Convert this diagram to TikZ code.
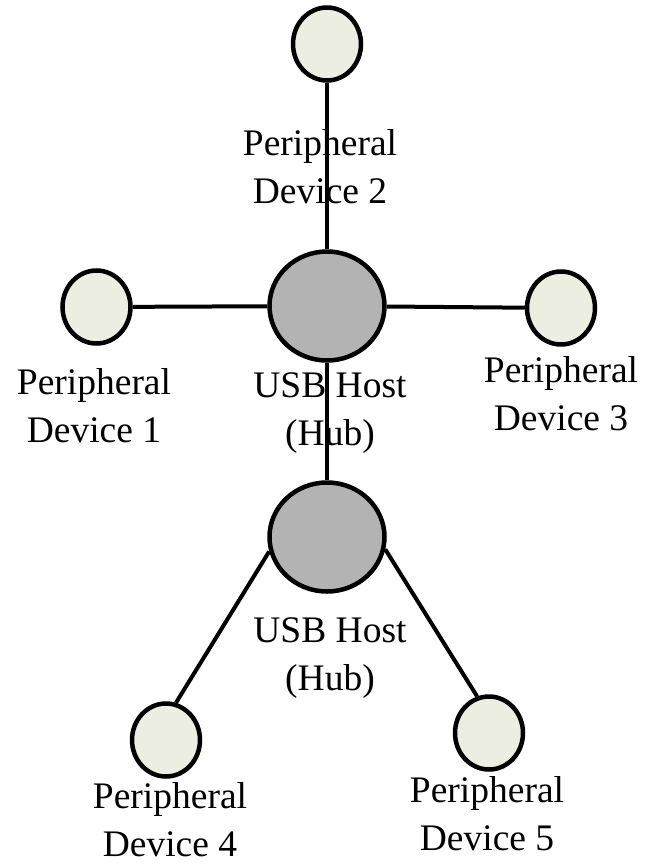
\documentclass[tikz,border=0pt]{standalone}
\usepackage{fontspec}
\setmainfont{Liberation Serif}
\usepackage{tikz}
\usetikzlibrary{shapes.geometric}
\definecolor{devfill}{HTML}{EDEEE2}
\definecolor{hubfill}{HTML}{B3B3B3}
\tikzset{
	device/.style={ellipse, draw=black, line width=4.5pt, fill=devfill, minimum width=68pt, minimum height=73pt, inner sep=0pt},
	hub/.style={ellipse, draw=black, line width=4.5pt, fill=hubfill, minimum width=115pt, minimum height=109pt, inner sep=0pt},
	cable/.style={line width=4pt},
	caption/.style={align=center, anchor=base, inner sep=0pt, font=\fontsize{37.5}{48}\selectfont}
}

\begin{document}
\begin{tikzpicture}[x=1pt, y=-1pt]
		\useasboundingbox (0,0) rectangle (656,864);
		
		% hubs
		\node [hub] (hubA) at (327,306) {};
		\node [hub] (hubB) at (327,537) {};
		
		% peripherals
		\node [device] (devA) at (96.5,307) {};
		\node [device] (devB) at (327,44) {};
		\node [device] (devC) at (561,308) {};
		\node [device] (devD) at (166,740) {};
		\node [device] (devE) at (489,733) {};
		
		% cables
		\draw [cable] (devA) -- (hubA);
		\draw [cable] (devB) -- (hubA);
		\draw [cable] (devC) -- (hubA);
		\draw [cable] (hubA) -- (hubB);
		\draw [cable] (hubB.194) -- (devD.75);
		\draw [cable] (hubB.348) -- (devE.108);
		
		% captions (base = last line)
		\node [caption] (capB) at (320,203) {Peripheral\\Device 2};
		\node [caption] (capA) at (94,442) {Peripheral\\Device 1};
		\node [caption] (capHA) at (330,445) {USB Host\\(Hub)};
		\node [caption] (capC) at (561,430) {Peripheral\\Device 3};
		\node [caption] (capHB) at (330,690) {USB Host\\(Hub)};
		\node [caption] (capD) at (170,856) {Peripheral\\Device 4};
		\node [caption] (capE) at (487,850) {Peripheral\\Device 5};
		
\end{tikzpicture}
\end{document}
